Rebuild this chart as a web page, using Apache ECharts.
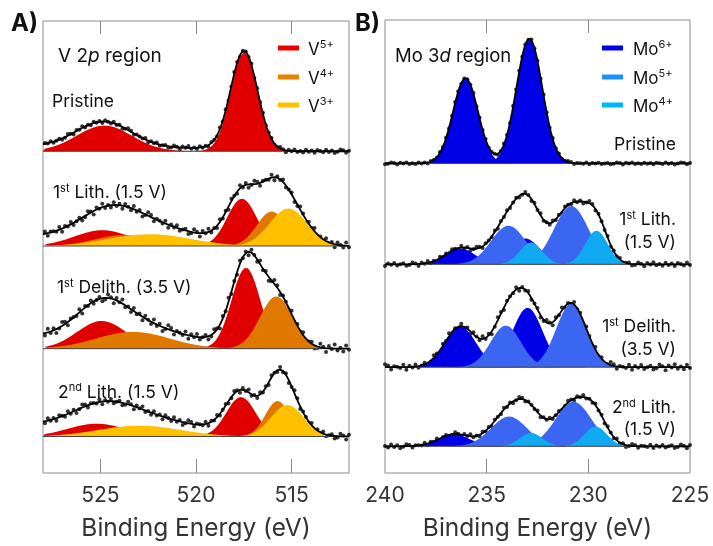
<!DOCTYPE html>
<html>
<head>
<meta charset="utf-8">
<script src="https://cdn.jsdelivr.net/npm/echarts@6/dist/echarts.min.js"></script>
<style>
  html, body { margin: 0; padding: 0; background: #fff; }
  #chart { width: 713px; height: 546px; }
</style>
</head>
<body>
<div id="chart"></div>
<script>
// ---- V 2p panel ----
const vRange = [512, 528]
const vTicks = [515, 520, 525]
const vStates = ['V{s|5+}', 'V{s|4+}', 'V{s|3+}']
const vColors = ['#e00000', '#e07800', '#ffc000']
const vLegendColors = ['#ee0000', '#e88000', '#ffc000']
const vSampleLabels = ['Pristine', '1{s|st} Lith. (1.5 V)', '1{s|st} Delith. (3.5 V)', '2{s|nd} Lith. (1.5 V)']
const vBaselines = [326, 230, 126, 37]
const vShirleySteps = [5, 10, 13, 12]
const vNoise = [1.8, 3.5, 4, 3]
// fitted peaks: [state index, centre (eV), height, FWHM (eV)]
const vPristine = [[0, 517.48, 100, 1.65], [0, 524.8, 26, 3.4]]
const vLith1 = [[0, 517.6, 48, 1.8], [0, 524.9, 16, 3.4], [1, 516.05, 35, 1.8], [1, 523.8, 11, 3.5], [2, 515.17, 38, 2.3], [2, 522.4, 12, 5.0]]
const vDelith1 = [[0, 517.39, 82, 1.75], [0, 524.94, 28, 3.0], [1, 515.8, 53, 2.0], [1, 523.3, 17, 4.5]]
const vLith2 = [[0, 517.65, 40, 1.8], [0, 525.2, 13, 3.5], [1, 515.74, 36, 1.5], [1, 524.0, 6, 3.5], [2, 515.22, 32, 2.0], [2, 522.95, 11, 5.0]]

// ---- Mo 3d panel ----
const moRange = [225, 240]
const moTicks = [230, 235]
const moTickLabels = [225, 230, 235, 240]
const moStates = ['Mo{s|6+}', 'Mo{s|5+}', 'Mo{s|4+}']
const moColors = ['#0000e6', '#3a66f2', '#10aaf2']
const moLegendColors = ['#0000e6', '#1e8fff', '#00b4ff']
const moSampleLabels = [['Pristine'], ['1{s|st} Lith.', '(1.5 V)'], ['1{s|st} Delith.', '(3.5 V)'], ['2{s|nd} Lith.', '(1.5 V)']]
const moBaselines = [313, 211, 107, 27]
const moShirleySteps = [0, 0, 0, 0]
const moNoise = [1, 2, 3, 2]
const moPristine = [[0, 232.9, 126, 1.5], [0, 236.04, 86, 1.45]]
const moLith1 = [[0, 233.1, 26, 1.7], [0, 236.3, 16, 1.7], [1, 230.84, 59, 2.0], [1, 233.93, 39, 2.0], [2, 229.6, 34, 1.3], [2, 232.82, 22, 1.3]]
const moDelith1 = [[0, 232.99, 60, 1.75], [0, 236.29, 41, 1.8], [1, 230.84, 64, 1.75], [1, 234.06, 42, 1.75]]
const moLith2 = [[0, 233.3, 14, 1.8], [0, 236.6, 12, 1.8], [1, 230.73, 45, 2.1], [1, 233.9, 30, 2.1], [2, 229.64, 20, 1.3], [2, 232.82, 13.5, 1.3]]

const dotJitter = [0.3, -0.8, 0.6, 1, -0.2, -1, 0.5, -0.4, 0.9, -0.6, 0.1, 0.7, -0.9, 0.4, -0.3, 0.8, -0.7, 0.2, -0.5, 1, -0.1, 0.6, -1, 0.3, 0.9, -0.4, -0.8, 0.5, 0, -0.6, 0.7, -0.2, 0.4, -0.9, 0.8, -0.3, 0.1]

const FONT = 'Inter, "Liberation Sans", sans-serif'

const peakAt = (p, e) => p[2] * Math.exp(-4 * Math.LN2 * (e - p[1]) ** 2 / (p[3] * p[3]))

const energies = (range, step) => {
  const out = []
  for (let e = range[0]; e <= range[1] + 1e-9; e += step) out.push(+e.toFixed(3))
  return out
}

// builds the filled components, baseline, envelope and dots for one panel
const buildPanel = (spectra, baselines, steps, noise, colors, range, axisIndex) => {
  const grid = energies(range, 0.05)
  const series = []
  spectra.forEach((peaks, si) => {
    const base = baselines[si]
    const common = { xAxisIndex: axisIndex, yAxisIndex: axisIndex, silent: true, animation: false }
    // components, drawn in state order so higher states sit in front
    peaks.slice().sort((a, b) => a[0] - b[0]).forEach(p => {
      series.push({
        ...common, type: 'line', showSymbol: false,
        data: grid.map(e => [e, base + peakAt(p, e)]),
        lineStyle: { width: 0 },
        areaStyle: { color: colors[p[0]], opacity: 1, origin: base }
      })
    })
    series.push({
      ...common, type: 'line', showSymbol: false,
      data: [[range[0], base], [range[1], base]],
      lineStyle: { color: '#444', width: 1 }
    })
    // envelope = sum of components + Shirley-type background
    const sum = grid.map(e => peaks.reduce((s, p) => s + peakAt(p, e), 0))
    let cum = 0
    const cumArr = sum.map(v => (cum += v))
    const env = grid.map((e, i) => base + sum[i] + steps[si] * cumArr[i] / cum)
    series.push({
      ...common, type: 'line', showSymbol: false,
      data: grid.map((e, i) => [e, env[i]]),
      lineStyle: { color: '#000', width: 1.8 }
    })
    const dots = []
    grid.forEach((e, i) => {
      if (i % 3 === 0) dots.push([e, env[i] + noise[si] * dotJitter[(i / 3 + si * 7) % dotJitter.length]])
    })
    series.push({ ...common, type: 'scatter', data: dots, symbolSize: 4, itemStyle: { color: '#000' } })
  })
  return series
}

const supRich = (size) => ({
  s: { fontSize: Math.round(size * 0.62), lineHeight: 11, verticalAlign: 'top', fontFamily: FONT, fill: '#111' }
})

const textEl = (text, x, y, size, align, extra) => ({
  type: 'text', silent: true,
  style: Object.assign({
    text, x, y, fontSize: size, fontFamily: FONT, fill: '#111',
    align: align || 'left', verticalAlign: 'middle', lineHeight: 20, rich: supRich(size)
  }, extra || {})
})

const graphic = []
graphic.push(textEl('A)', 11, 24, 24, 'left', { fontWeight: 'bold' }))
graphic.push(textEl('B)', 355, 24, 24, 'left', { fontWeight: 'bold' }))
graphic.push(textEl('V 2{i|p} region', 58, 56, 19, 'left', { rich: { i: { fontStyle: 'italic', fontSize: 19, fontFamily: FONT } } }))
graphic.push(textEl('Mo 3{i|d} region', 395, 56, 18.5, 'left', { rich: { i: { fontStyle: 'italic', fontSize: 18.5, fontFamily: FONT } } }))

const legendRows = [48, 77, 105]
vStates.forEach((s, i) => {
  graphic.push({ type: 'rect', silent: true, shape: { x: 278, y: legendRows[i] - 2.5, width: 21, height: 5 }, style: { fill: vLegendColors[i] } })
  graphic.push(textEl(s, 308, legendRows[i] + 1.5, 17))
})
moStates.forEach((s, i) => {
  graphic.push({ type: 'rect', silent: true, shape: { x: 602, y: legendRows[i] - 2.5, width: 21, height: 5 }, style: { fill: moLegendColors[i] } })
  graphic.push(textEl(s, 633, legendRows[i] + 1.5, 17))
})

const vLabelPos = [[52, 102], [53, 193], [57, 288], [58, 392.5]]
vSampleLabels.forEach((t, i) => graphic.push(textEl(t, vLabelPos[i][0], vLabelPos[i][1], 17.5)))
const moLabelY = [[144.5], [220, 242.5], [327, 349.5], [408, 430]]
moSampleLabels.forEach((lines, i) => lines.forEach((t, j) => graphic.push(textEl(t, 676, moLabelY[i][j], 17.5, 'right'))))

const bottomAxis = (gridIndex, range, ticks, labels) => ({
  gridIndex, type: 'value', min: range[0], max: range[1], inverse: true, position: 'bottom',
  axisLine: { show: false },
  axisTick: { inside: true, length: 14, customValues: ticks, lineStyle: { color: '#888' } },
  axisLabel: { customValues: labels, fontSize: 21, color: '#333', fontFamily: FONT, margin: 12 },
  splitLine: { show: false },
  name: 'Binding Energy (eV)', nameLocation: 'middle', nameGap: 43,
  nameTextStyle: { fontSize: 24.5, color: '#333', fontFamily: FONT }
})
const topAxis = (gridIndex, range, ticks) => ({
  gridIndex, type: 'value', min: range[0], max: range[1], inverse: true, position: 'top',
  axisLine: { show: false },
  axisTick: { inside: true, length: 13, customValues: ticks, lineStyle: { color: '#888' } },
  axisLabel: { show: false }, splitLine: { show: false }
})

const chart = echarts.init(document.getElementById('chart'))
chart.setOption({
  animation: false,
  backgroundColor: '#fff',
  grid: [
    { left: 43, top: 21, width: 306, height: 458, show: true, borderColor: '#8c8c8c', borderWidth: 1 },
    { left: 385, top: 20, width: 305, height: 458, show: true, borderColor: '#8c8c8c', borderWidth: 1 }
  ],
  xAxis: [
    bottomAxis(0, vRange, vTicks, vTicks),
    bottomAxis(1, moRange, moTicks, moTickLabels),
    topAxis(0, vRange, vTicks),
    topAxis(1, moRange, moTicks)
  ],
  yAxis: [
    { gridIndex: 0, type: 'value', min: 0, max: 458, show: false },
    { gridIndex: 1, type: 'value', min: 0, max: 458, show: false }
  ],
  series: [
    ...buildPanel([vPristine, vLith1, vDelith1, vLith2], vBaselines, vShirleySteps, vNoise, vColors, vRange, 0),
    ...buildPanel([moPristine, moLith1, moDelith1, moLith2], moBaselines, moShirleySteps, moNoise, moColors, moRange, 1)
  ],
  graphic
})
</script>
</body>
</html>
